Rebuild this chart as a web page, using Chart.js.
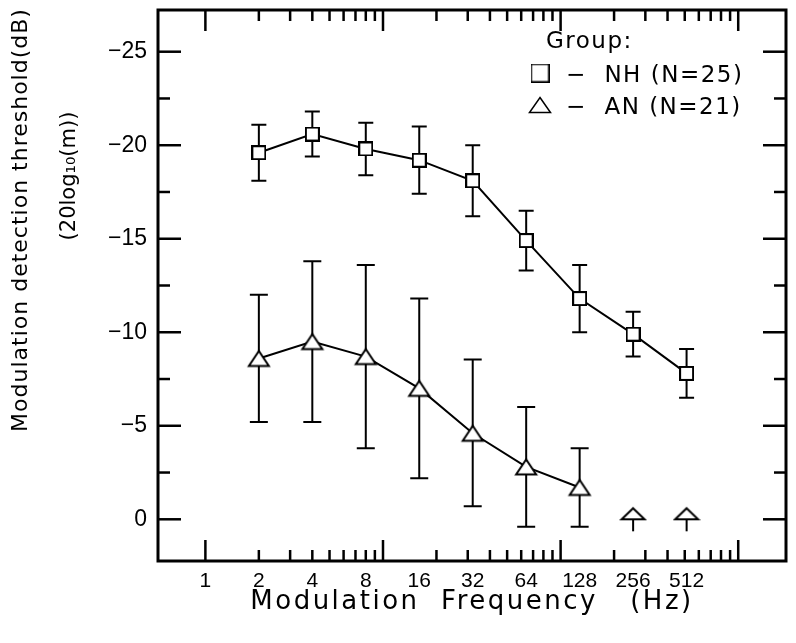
<!DOCTYPE html>
<html>
<head>
<meta charset="utf-8">
<title>Modulation detection threshold</title>
<script src="https://cdn.jsdelivr.net/npm/chart.js@4.4.0/dist/chart.umd.min.js"></script>
<style>
    html, body { margin: 0; padding: 0; background: #fff; }
    #wrap { width: 796px; height: 643px; }
</style>
</head>
<body>
<div id="wrap"><canvas id="mdtChart" width="796" height="643"></canvas></div>
<script>
// ===== data =====
const nhFreqs = [2, 4, 8, 16, 32, 64, 128, 256, 512];
const nhMean  = [-19.6, -20.6, -19.8, -19.2, -18.1, -14.9, -11.8, -9.9, -7.8];
const nhTop   = [-21.1, -21.8, -21.2, -21.0, -20.0, -16.5, -13.6, -11.1, -9.1];
const nhBot   = [-18.1, -19.4, -18.4, -17.4, -16.2, -13.3, -10.0, -8.7, -6.5];

const anFreqs = [2, 4, 8, 16, 32, 64, 128];
const anMean  = [-8.6, -9.5, -8.7, -7.0, -4.6, -2.8, -1.7];
const anTop   = [-12.0, -13.8, -13.6, -11.8, -8.55, -6.0, -3.8];
const anBot   = [-5.2, -5.2, -3.8, -2.2, -0.7, 0.4, 0.4];

// AN points at the floor (threshold not reached)
const anFloorFreqs = [256, 512];
const anFloorVals  = [0, 0];

const xTickValues = [1, 2, 4, 8, 16, 32, 64, 128, 256, 512];
const yTickValues = [-25, -20, -15, -10, -5, 0];
const xMajorMarks = [1, 10, 100, 1000];
const xMinorMarks = [2, 3, 4, 5, 6, 7, 8, 9, 20, 30, 40, 50, 60, 70, 80, 90, 200, 300, 400, 500, 600, 700, 800, 900];
const yMajorMarks = [-25, -20, -15, -10, -5, 0];
const yMinorMarks = [-22.5, -17.5, -12.5, -7.5, -2.5];

const xTitle = 'Modulation  Frequency   (Hz)';
const yTitle1 = 'Modulation detection threshold(dB)';
const yTitle2 = '(20log\u2081\u2080(m))';
const legendTitle = 'Group:';
const legendLabels = ['\u2212  NH (N=25)', '\u2212  AN (N=21)'];

// ===== markers =====
function makeSquare(size, lw) {
    const c = document.createElement('canvas');
    c.width = size; c.height = size;
    const g = c.getContext('2d');
    g.fillStyle = '#fff';
    g.strokeStyle = '#000';
    g.lineWidth = lw;
    const o = lw / 2;
    g.fillRect(o, o, size - lw, size - lw);
    g.strokeRect(o, o, size - lw, size - lw);
    return c;
}

function makeTriangle(w, h, tw, th, lw) {
    const c = document.createElement('canvas');
    c.width = w; c.height = h;
    const g = c.getContext('2d');
    g.fillStyle = '#fff';
    g.strokeStyle = '#000';
    g.lineWidth = lw;
    const cx = w / 2, cy = h / 2;
    g.beginPath();
    g.moveTo(cx, cy - th / 2);
    g.lineTo(cx + tw / 2, cy + th / 2);
    g.lineTo(cx - tw / 2, cy + th / 2);
    g.closePath();
    g.fill();
    g.stroke();
    return c;
}

function makeArrow() {
    const c = document.createElement('canvas');
    c.width = 28; c.height = 28;
    const g = c.getContext('2d');
    g.fillStyle = '#fff';
    g.strokeStyle = '#000';
    g.lineWidth = 2;
    g.beginPath();
    g.moveTo(14, 3);
    g.lineTo(25.5, 14);
    g.lineTo(2.5, 14);
    g.closePath();
    g.fill();
    g.stroke();
    g.beginPath();
    g.moveTo(14, 14);
    g.lineTo(14, 26);
    g.stroke();
    return c;
}

const squareImg = makeSquare(15, 2);
const triangleImg = makeTriangle(26, 22, 20, 15, 2);
const arrowImg = makeArrow();
const legendSquare = makeSquare(19, 1.5);
const legendTriangle = makeTriangle(26, 20, 21, 15, 1.5);

// ===== plugins =====
const errorBars = {
    id: 'errorBars',
    beforeDatasetsDraw(chart) {
        const { ctx, scales: { x, y } } = chart;
        ctx.save();
        ctx.strokeStyle = '#000';
        ctx.lineWidth = 2;
        const draw = (freqs, tops, bots, cap) => {
            freqs.forEach((f, i) => {
                const px = x.getPixelForValue(f);
                const y1 = y.getPixelForValue(tops[i]);
                const y2 = y.getPixelForValue(bots[i]);
                ctx.beginPath();
                ctx.moveTo(px, y1); ctx.lineTo(px, y2);
                ctx.moveTo(px - cap / 2, y1); ctx.lineTo(px + cap / 2, y1);
                ctx.moveTo(px - cap / 2, y2); ctx.lineTo(px + cap / 2, y2);
                ctx.stroke();
            });
        };
        draw(nhFreqs, nhTop, nhBot, 15);
        draw(anFreqs, anTop, anBot, 18);
        ctx.restore();
    }
};

const frameTicks = {
    id: 'frameTicks',
    afterDatasetsDraw(chart) {
        const { ctx, chartArea: a, scales: { x, y } } = chart;
        ctx.save();
        ctx.strokeStyle = '#000';
        ctx.lineWidth = 2.5;
        const seg = (x1, y1, x2, y2) => {
            ctx.beginPath(); ctx.moveTo(x1, y1); ctx.lineTo(x2, y2); ctx.stroke();
        };
        xMajorMarks.forEach(v => {
            const p = x.getPixelForValue(v);
            seg(p, a.bottom, p, a.bottom - 21);
            seg(p, a.top, p, a.top + 21);
        });
        xMinorMarks.forEach(v => {
            const p = x.getPixelForValue(v);
            seg(p, a.bottom, p, a.bottom - 11);
            seg(p, a.top, p, a.top + 11);
        });
        yMajorMarks.forEach(v => {
            const p = y.getPixelForValue(v);
            seg(a.left, p, a.left + 23, p);
            seg(a.right, p, a.right - 23, p);
        });
        yMinorMarks.forEach(v => {
            const p = y.getPixelForValue(v);
            seg(a.left, p, a.left + 12, p);
            seg(a.right, p, a.right - 12, p);
        });
        ctx.lineWidth = 3;
        ctx.strokeRect(a.left, a.top, a.right - a.left, a.bottom - a.top);
        ctx.restore();
    }
};

const textLayer = {
    id: 'textLayer',
    afterDraw(chart) {
        const { ctx, chartArea: a } = chart;
        ctx.save();
        ctx.fillStyle = '#000';

        // x title
        ctx.font = '26px "DejaVu Sans"';
        ctx.letterSpacing = '2.5px';
        ctx.textAlign = 'center';
        ctx.textBaseline = 'alphabetic';
        ctx.fillText(xTitle, (a.left + a.right) / 2, 609);

        // y titles
        ctx.font = '22px "DejaVu Sans"';
        ctx.letterSpacing = '1px';
        ctx.textBaseline = 'middle';
        ctx.save();
        ctx.translate(21, 220);
        ctx.rotate(-Math.PI / 2);
        ctx.fillText(yTitle1, 0, 0);
        ctx.restore();
        ctx.font = '21px "DejaVu Sans"';
        ctx.letterSpacing = '0px';
        ctx.save();
        ctx.translate(70, 176);
        ctx.rotate(-Math.PI / 2);
        ctx.fillText(yTitle2, 0, 0);
        ctx.restore();

        // legend
        ctx.font = '23px "DejaVu Sans"';
        ctx.letterSpacing = '1.5px';
        ctx.textAlign = 'left';
        ctx.textBaseline = 'alphabetic';
        ctx.fillText(legendTitle, 546, 48);
        const marks = [legendSquare, legendTriangle];
        const rowY = [73, 105];
        legendLabels.forEach((t, i) => {
            const m = marks[i];
            ctx.drawImage(m, 540 - m.width / 2, rowY[i] - m.height / 2);
            ctx.fillText(t, 566, rowY[i] + 8.5);
        });
        ctx.restore();
    }
};

// ===== chart =====
const xTickFont = { family: "'Liberation Sans', Arial, sans-serif", size: 21 };
const yTickFont = { family: "'Liberation Sans', Arial, sans-serif", size: 23 };

new Chart(document.getElementById('mdtChart'), {
    type: 'scatter',
    data: {
        datasets: [
            {
                label: 'NH (N=25)',
                data: nhFreqs.map((f, i) => ({ x: f, y: nhMean[i] })),
                showLine: true,
                borderColor: '#000',
                borderWidth: 2,
                pointStyle: squareImg,
                pointRadius: 8,
                tension: 0
            },
            {
                label: 'AN (N=21)',
                data: anFreqs.map((f, i) => ({ x: f, y: anMean[i] })),
                showLine: true,
                borderColor: '#000',
                borderWidth: 2,
                pointStyle: triangleImg,
                pointRadius: 8,
                tension: 0
            },
            {
                label: 'AN floor',
                data: anFloorFreqs.map((f, i) => ({ x: f, y: anFloorVals[i] })),
                showLine: false,
                pointStyle: arrowImg,
                pointRadius: 8
            }
        ]
    },
    options: {
        responsive: false,
        animation: false,
        devicePixelRatio: 1,
        layout: { padding: { top: 7, right: 8, left: 0, bottom: 0 } },
        plugins: {
            legend: { display: false },
            tooltip: { enabled: false }
        },
        scales: {
            x: {
                type: 'logarithmic',
                min: 0.541,
                max: 1858,
                grid: { display: false, drawTicks: false },
                border: { display: false },
                afterBuildTicks: scale => { scale.ticks = xTickValues.map(v => ({ value: v })); },
                afterFit: scale => {
                    scale.height = 82;
                    scale.paddingLeft = 0;
                    scale.paddingRight = 0;
                },
                ticks: {
                    autoSkip: false,
                    maxRotation: 0,
                    padding: 8,
                    color: '#000',
                    font: xTickFont,
                    callback: v => String(v)
                }
            },
            y: {
                type: 'linear',
                reverse: true,
                min: -27.23,
                max: 2.23,
                grid: { display: false, drawTicks: false },
                border: { display: false },
                afterBuildTicks: scale => { scale.ticks = yTickValues.map(v => ({ value: v })); },
                afterFit: scale => {
                    scale.width = 158;
                    scale.paddingTop = 0;
                    scale.paddingBottom = 0;
                },
                ticks: {
                    padding: 11,
                    color: '#000',
                    font: yTickFont,
                    callback: v => (v === 0 ? '0' : '\u2212' + Math.abs(v))
                }
            }
        }
    },
    plugins: [errorBars, frameTicks, textLayer]
});
</script>
</body>
</html>
